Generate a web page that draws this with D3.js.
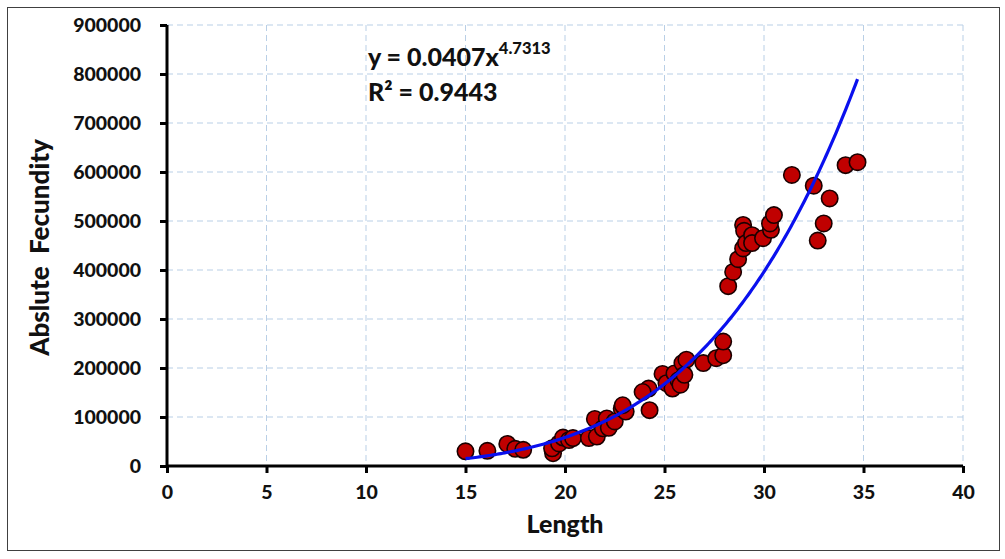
<!DOCTYPE html>
<html>
<head>
<meta charset="utf-8">
<script src="https://cdn.jsdelivr.net/npm/d3@7"></script>
<style>
  html, body { margin: 0; padding: 0; background: #fff; }
  svg { display: block; font-family: Lato, "Open Sans", sans-serif; font-weight: 900; }
</style>
</head>
<body>
<svg id="chart" width="1005" height="559"></svg>
<script>
// Fish length (cm) and absolute fecundity (eggs)
const lengths = [
  15.0, 16.1, 17.1, 17.5, 17.9,
  19.4, 19.35, 19.7, 19.9, 20.2, 20.4, 21.2, 21.6, 21.5, 21.9, 22.1, 22.2, 22.5, 22.85, 23.05,
  22.9, 24.25, 24.2, 23.9, 24.9, 25.1, 25.4, 25.5, 25.7, 25.8, 25.9, 26.1, 26.0, 26.95, 27.6,
  27.95, 27.95,
  28.2, 28.45, 28.7, 28.95, 28.95, 29.0, 29.1, 29.4, 29.4, 29.95, 30.35, 30.3, 30.5,
  31.4, 32.5, 33.3, 33.0, 32.7, 34.1, 34.7
];
const fecundity = [
  30000, 31000, 45000, 35000, 33000,
  26000, 36000, 46000, 58000, 53000, 57000, 57000, 60000, 96000, 77000, 97000, 78000, 91000, 117000, 111000,
  124000, 114000, 158000, 151000, 188000, 169000, 158000, 189000, 175000, 166000, 210000, 217000, 186000, 210000, 220000,
  226000, 254000,
  367000, 396000, 422000, 444000, 492000, 480000, 455000, 471000, 455000, 465000, 482000, 495000, 512000,
  594000, 572000, 546000, 495000, 460000, 614000, 620000
];

// Power-law fit printed on the chart
const fitA = 0.0407;
const fitB = 4.7313;
const fitR2 = 0.9443;

const xTicks = [0, 5, 10, 15, 20, 25, 30, 35, 40];
const yTicks = [0, 100000, 200000, 300000, 400000, 500000, 600000, 700000, 800000, 900000];

const svg = d3.select("#chart");

// outer frame
svg.append("rect")
  .attr("x", 7.5).attr("y", 7.5)
  .attr("width", 992).attr("height", 543)
  .attr("fill", "#fff").attr("stroke", "#404040").attr("stroke-width", 1);

const plot = { left: 167, right: 963, top: 25, bottom: 466 };

const x = d3.scaleLinear().domain([0, 40]).range([plot.left, plot.right]);
const y = d3.scaleLinear().domain([0, 900000]).range([plot.bottom, plot.top]);

// gridlines
const grid = svg.append("g").attr("stroke", "#b9cfe6").attr("stroke-width", 1)
  .attr("stroke-dasharray", "6,4");
grid.selectAll("line.h").data(yTicks.filter(d => d > 0)).join("line")
  .attr("x1", plot.left).attr("x2", plot.right)
  .attr("y1", d => y(d)).attr("y2", d => y(d));
grid.selectAll("line.v").data(xTicks.filter(d => d > 0)).join("line")
  .attr("y1", plot.top).attr("y2", plot.bottom)
  .attr("x1", d => x(d)).attr("x2", d => x(d));

// axes
const xAxis = svg.append("g")
  .attr("transform", `translate(0,${plot.bottom})`)
  .call(d3.axisBottom(x).tickValues(xTicks).tickSize(7).tickPadding(12).tickFormat(d3.format("d")));
const yAxis = svg.append("g")
  .attr("transform", `translate(${plot.left},0)`)
  .call(d3.axisLeft(y).tickValues(yTicks).tickSize(7).tickPadding(19).tickFormat(d3.format("d")));

[xAxis, yAxis].forEach(g => {
  g.select(".domain").attr("stroke", "#000").attr("stroke-width", 3);
  g.selectAll(".tick line").attr("stroke", "#000").attr("stroke-width", 3);
  g.selectAll(".tick text").attr("fill", "#111").style("font-size", "19.5px")
    .style("font-family", "Lato, sans-serif").style("font-weight", "900");
});
xAxis.select(".domain").attr("d", `M${plot.left},0H${plot.right}`);
yAxis.select(".domain").attr("d", `M0,${plot.bottom}V${plot.top}`);

// fitted curve across the observed length range
const xMin = d3.min(lengths), xMax = d3.max(lengths);
const curvePts = d3.range(0, 201).map(i => {
  const L = xMin + (xMax - xMin) * i / 200;
  return [L, fitA * Math.pow(L, fitB)];
});

// observations
svg.append("g").selectAll("circle")
  .data(lengths.map((L, i) => [L, fecundity[i]]))
  .join("circle")
  .attr("cx", d => x(d[0])).attr("cy", d => y(d[1]))
  .attr("r", 8.2)
  .attr("fill", "#c00000")
  .attr("stroke", "#1a0000").attr("stroke-width", 1.6);

svg.append("path")
  .datum(curvePts)
  .attr("fill", "none")
  .attr("stroke", "#0a10ee")
  .attr("stroke-width", 3.2)
  .attr("d", d3.line().x(d => x(d[0])).y(d => y(d[1])));

// equation and R²
const eq = svg.append("text").attr("x", 368).attr("y", 66)
  .style("font-size", "25px").attr("fill", "#111");
eq.append("tspan").text(`y = ${fitA}x`);
eq.append("tspan").attr("dy", -12).style("font-size", "16.5px").text(fitB);

svg.append("text").attr("x", 368).attr("y", 101)
  .style("font-size", "25px").attr("fill", "#111")
  .text(`R² = ${fitR2}`);

// axis titles
svg.append("text")
  .attr("x", (plot.left + plot.right) / 2).attr("y", 533)
  .attr("text-anchor", "middle")
  .style("font-size", "25px").attr("fill", "#111")
  .text("Length");

svg.append("text")
  .attr("transform", `translate(49,${(plot.top + plot.bottom) / 2 + 2}) rotate(-90)`)
  .attr("text-anchor", "middle")
  .style("font-size", "26px").attr("fill", "#111")
  .style("white-space", "pre")
  .text("Abslute  Fecundity");
</script>
</body>
</html>
